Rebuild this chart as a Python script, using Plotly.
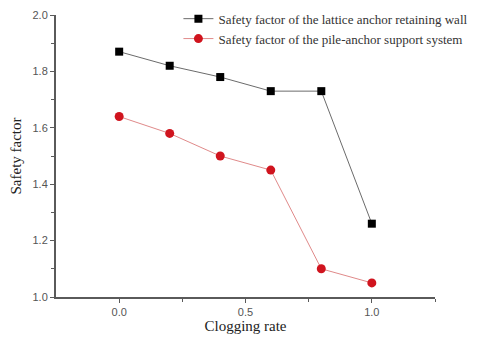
import plotly.graph_objects as go

clogging_rate = [0.0, 0.2, 0.4, 0.6, 0.8, 1.0]
lattice_wall = [1.87, 1.82, 1.78, 1.73, 1.73, 1.26]
pile_anchor = [1.64, 1.58, 1.50, 1.45, 1.10, 1.05]

names = ['Safety factor of the lattice anchor retaining wall',
         'Safety factor of the pile-anchor support system']

fig = go.Figure()
fig.add_trace(go.Scatter(
    x=clogging_rate, y=lattice_wall, name=names[0], mode='lines+markers',
    line=dict(color='#6b6b6b', width=1),
    marker=dict(symbol='square', size=8, color='black')))
fig.add_trace(go.Scatter(
    x=clogging_rate, y=pile_anchor, name=names[1], mode='lines+markers',
    line=dict(color='#e08a8a', width=1),
    marker=dict(symbol='circle', size=9, color='#d0141e')))

axis_common = dict(showgrid=False, zeroline=False, showline=True,
                   linecolor='#5a5a5a', linewidth=2, ticks='outside',
                   ticklen=4, tickcolor='#5a5a5a', automargin=False,
                   tickfont=dict(family='Liberation Sans, Arial', size=11, color='#555'),
                   minor=dict(ticks='outside', ticklen=3, tickcolor='#5a5a5a'))

fig.update_xaxes(range=[-0.25, 1.25], tickvals=[0.0, 0.5, 1.0],
                 ticktext=['0.0', '0.5', '1.0'],
                 title=dict(text='Clogging rate', standoff=2,
                            font=dict(family='Liberation Serif, Times New Roman', size=15, color='#222')),
                 **axis_common)
fig.update_xaxes(minor=dict(tickvals=[0.25, 0.75, 1.25]))
fig.update_yaxes(range=[1.0, 2.0], tickvals=[1.0, 1.2, 1.4, 1.6, 1.8, 2.0],
                 ticktext=['1.0', '1.2', '1.4', '1.6', '1.8', '2.0'],
                 title=dict(text='Safety factor', standoff=10,
                            font=dict(family='Liberation Serif, Times New Roman', size=15, color='#222')),
                 **axis_common)
fig.update_yaxes(minor=dict(tickvals=[1.1, 1.3, 1.5, 1.7, 1.9]))

# the page body has an 8px margin, so the figure is drawn 8px smaller
fig.update_layout(
    width=472, height=341,
    margin=dict(l=48, r=45, t=7, b=52, autoexpand=False),
    plot_bgcolor='white', paper_bgcolor='white',
    legend=dict(x=0.323, y=1.04, xanchor='left', yanchor='top',
                bgcolor='rgba(0,0,0,0)', tracegroupgap=0, itemwidth=30,
                font=dict(family='Liberation Serif, Times New Roman', size=13, color='#333')),
)

fig.write_html('out.html')
